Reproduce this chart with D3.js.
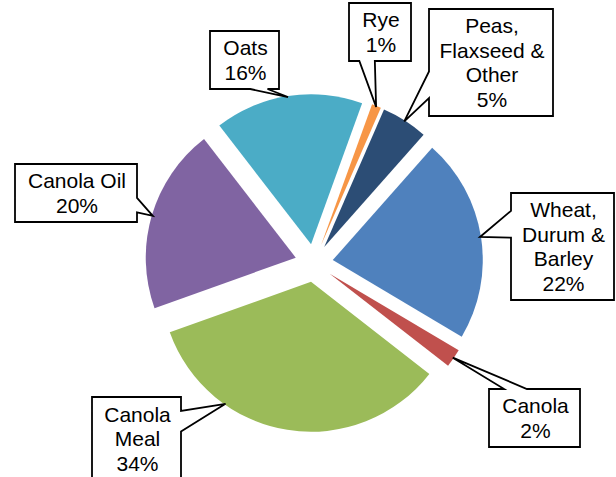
<!DOCTYPE html>
<html>
<head>
<meta charset="utf-8">
<script src="https://cdn.jsdelivr.net/npm/d3@7"></script>
<style>
  body { margin: 0; background: #fff; }
  svg { display: block; }
</style>
</head>
<body>
<div id="chart"></div>
<script>
// chart data
var categories = ["Wheat, Durum & Barley", "Canola", "Canola Meal", "Canola Oil", "Oats", "Rye", "Peas, Flaxseed & Other"];
var labelLines = [["Wheat,", "Durum &", "Barley"], ["Canola"], ["Canola", "Meal"], ["Canola Oil"], ["Oats"], ["Rye"], ["Peas,", "Flaxseed &", "Other"]];
var values = [22, 2, 34, 20, 16, 1, 5];
var colors = ["#4F81BD", "#C0504D", "#9BBB59", "#8064A2", "#4BACC6", "#F79646", "#2C4D75"];

// callout boxes (layout only): x, y, w, h, and where the pointer hits the slice (degrees, null = middle)
var callouts = [
    {x: 511, y: 193, w: 103, h: 107, tipAngle: null},
    {x: 489, y: 389, w: 91, h: 58, tipAngle: null},
    {x: 92, y: 397, w: 89, h: 83, tipAngle: 215},
    {x: 15, y: 164, w: 122, h: 58, tipAngle: null},
    {x: 210, y: 31, w: 69, h: 58, tipAngle: null},
    {x: 349, y: 3, w: 62, h: 58, tipAngle: null},
    {x: 429, y: 9, w: 124, h: 107, tipAngle: null}
];

var svgWidth = 616;
var svgHeight = 477;
var cx = 314, cy = 263;
var radius = 150;
var explode = 19;
var lineHeight = 24.5;

var svg = d3.select("#chart")
    .append("svg")
    .attr("width", svgWidth)
    .attr("height", svgHeight);

var rows = categories.map(function(c, i) {
    return {name: c, lines: labelLines[i], value: values[i], color: colors[i], box: callouts[i]};
});

var pie = d3.pie()
    .sort(null)
    .value(d => d.value)
    .startAngle(41.5 * Math.PI / 180)
    .endAngle((41.5 + 360) * Math.PI / 180);

var arc = d3.arc().innerRadius(0).outerRadius(radius);

var arcs = pie(rows);

function offsetOf(d) {
    var mid = (d.startAngle + d.endAngle) / 2;
    return [Math.sin(mid) * explode, -Math.cos(mid) * explode];
}

var chart = svg.append("g").attr("transform", "translate(" + cx + "," + cy + ")");

chart.selectAll("path.slice")
    .data(arcs)
    .enter()
    .append("path")
    .attr("class", "slice")
    .attr("d", arc)
    .attr("transform", d => "translate(" + offsetOf(d) + ")")
    .attr("fill", d => d.data.color);

// wedge rect callout, like the office shape: pointer base sits on the side facing the tip
function calloutPath(b, tx, ty) {
    var l = b.x, t = b.y, r = b.x + b.w, btm = b.y + b.h;
    var hc = b.x + b.w / 2, vc = b.y + b.h / 2;
    var dxPos = tx - hc, dyPos = ty - vc;
    var dq = Math.abs(dxPos * b.h) - Math.abs(dyPos * b.w);
    var x1 = l + b.w * (dxPos > 0 ? 7 : 2) / 12, x2 = l + b.w * (dxPos > 0 ? 10 : 5) / 12;
    var y1 = t + b.h * (dyPos > 0 ? 7 : 2) / 12, y2 = t + b.h * (dyPos > 0 ? 10 : 5) / 12;
    var p = d3.path();
    p.moveTo(l, t);
    if (dq < 0 && dyPos < 0) { p.lineTo(x1, t); p.lineTo(tx, ty); p.lineTo(x2, t); }
    p.lineTo(r, t);
    if (dq > 0 && dxPos > 0) { p.lineTo(r, y1); p.lineTo(tx, ty); p.lineTo(r, y2); }
    p.lineTo(r, btm);
    if (dq < 0 && dyPos > 0) { p.lineTo(x2, btm); p.lineTo(tx, ty); p.lineTo(x1, btm); }
    p.lineTo(l, btm);
    if (dq > 0 && dxPos < 0) { p.lineTo(l, y2); p.lineTo(tx, ty); p.lineTo(l, y1); }
    p.closePath();
    return p.toString();
}

var labels = svg.append("g").attr("class", "callouts");

arcs.forEach(function(d) {
    var b = d.data.box;
    var off = offsetOf(d);
    var a = b.tipAngle == null ? (d.startAngle + d.endAngle) / 2 : b.tipAngle * Math.PI / 180;
    var tx = cx + off[0] + Math.sin(a) * (radius - 1);
    var ty = cy + off[1] - Math.cos(a) * (radius - 1);

    var g = labels.append("g");
    g.append("path")
        .attr("d", calloutPath(b, tx, ty))
        .attr("fill", "#fff")
        .attr("stroke", "#000")
        .attr("stroke-width", 1.8)
        .attr("stroke-linejoin", "miter");

    var lines = d.data.lines.concat([d.data.value + "%"]);
    var top = b.y + b.h / 2 - (lines.length - 1) / 2 * lineHeight;
    g.append("text")
        .attr("text-anchor", "middle")
        .style("font-family", "'Liberation Sans', Arial, sans-serif")
        .style("font-size", "21px")
        .attr("fill", "#000")
        .selectAll("tspan")
        .data(lines)
        .enter()
        .append("tspan")
        .attr("x", b.x + b.w / 2 + 1)
        .attr("y", (t, i) => top + i * lineHeight + 7.5)
        .text(t => t);
});
</script>
</body>
</html>
